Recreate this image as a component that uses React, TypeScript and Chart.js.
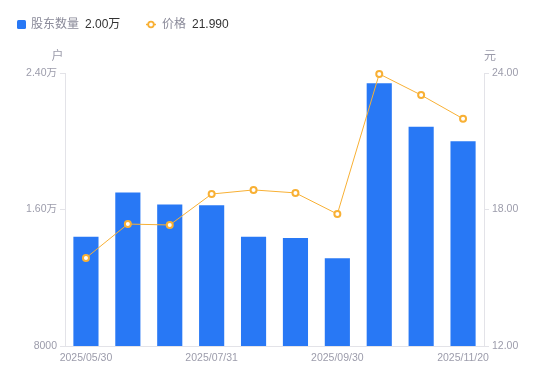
import React, { useEffect, useRef } from "react";
import { Chart, registerables } from "chart.js";

Chart.register(...registerables);

const categories = [
  "2025/05/30", "2025/06/20", "2025/06/30", "2025/07/31", "2025/08/20",
  "2025/08/31", "2025/09/30", "2025/10/20", "2025/10/31", "2025/11/20",
];
const holders = [14400, 17000, 16300, 16250, 14400, 14330, 13150, 23400, 20850, 20000];
const prices = [15.87, 17.36, 17.32, 18.68, 18.86, 18.73, 17.8, 23.96, 23.03, 21.99];
const leftTicks = [8000, 16000, 24000];
const rightTicks = [12, 18, 24];
const shownLabelIdx = [0, 3, 6, 9];
const seriesNames = ["股东数量", "价格"];
const legendValues = ["2.00万", "21.990"];
const unitLeft = "户";
const unitRight = "元";

const FONT = "'Liberation Sans', 'Noto Sans CJK SC', sans-serif";
const BLUE = "#2878f5";
const ORANGE = "#f8b034";
const TICK_COLOR = "#9c9cab";
const AXIS_COLOR = "#e3e3e8";
const TICK_SIZE = 10.5;

function fmtLeft(v: number) {
  if (v >= 10000) return (v / 10000).toFixed(2) + "万";
  return String(v);
}

const overlayPlugin = {
  id: "overlay",
  afterDraw(chart: any) {
    const ctx = chart.ctx;
    const area = chart.chartArea;
    ctx.save();
    // unit titles
    ctx.font = `12px ${FONT}`;
    ctx.fillStyle = TICK_COLOR;
    ctx.textAlign = "center";
    ctx.textBaseline = "middle";
    ctx.fillText(unitLeft, area.left - 7.5, 57);
    ctx.fillText(unitRight, area.right + 6, 57);

    // legend
    const y = 24.5;
    ctx.font = `12px ${FONT}`;
    ctx.textAlign = "left";
    let x = 17;
    // item 1
    ctx.fillStyle = BLUE;
    ctx.beginPath();
    (ctx as any).roundRect ? ctx.roundRect(x, y - 4.5, 9, 9, 1.5) : ctx.rect(x, y - 4.5, 9, 9);
    ctx.fill();
    x = 31;
    ctx.fillStyle = "#8a8a99";
    ctx.fillText(seriesNames[0], x, y);
    x += ctx.measureText(seriesNames[0]).width + 6;
    ctx.fillStyle = "#333333";
    ctx.fillText(legendValues[0], x, y);
    // item 2
    x = 146;
    ctx.strokeStyle = ORANGE;
    ctx.lineWidth = 1.5;
    ctx.beginPath();
    ctx.moveTo(x, y);
    ctx.lineTo(x + 10, y);
    ctx.stroke();
    ctx.beginPath();
    ctx.arc(x + 5, y, 2.8, 0, Math.PI * 2);
    ctx.fillStyle = "#fff";
    ctx.fill();
    ctx.lineWidth = 1.8;
    ctx.stroke();
    x = 162;
    ctx.fillStyle = "#8a8a99";
    ctx.fillText(seriesNames[1], x, y);
    x += ctx.measureText(seriesNames[1]).width + 6;
    ctx.fillStyle = "#333333";
    ctx.fillText(legendValues[1], x, y);
    ctx.restore();
  },
};

export default function App() {
  const ref = useRef<HTMLCanvasElement | null>(null);
  useEffect(() => {
    document.body.style.margin = "0";
    const canvas = ref.current!;
    const chart = new Chart(canvas, {
      data: {
        labels: categories,
        datasets: [
          {
            type: "line",
            label: seriesNames[1],
            data: prices,
            yAxisID: "y1",
            borderColor: ORANGE,
            borderWidth: 1,
            tension: 0,
            pointRadius: 3,
            pointBorderWidth: 2,
            pointBackgroundColor: "#fff",
            pointBorderColor: ORANGE,
            clip: false,
            order: 0,
          } as any,
          {
            type: "bar",
            label: seriesNames[0],
            data: holders,
            yAxisID: "y",
            backgroundColor: BLUE,
            barPercentage: 0.6,
            categoryPercentage: 1,
            order: 1,
          } as any,
        ],
      },
      options: {
        animation: false,
        responsive: false,
        maintainAspectRatio: false,
        layout: { padding: { top: 73, left: 0, right: 0, bottom: 0 } },
        plugins: { legend: { display: false }, tooltip: { enabled: false } },
        scales: {
          x: {
            grid: { display: false, drawTicks: false },
            border: { display: true, color: AXIS_COLOR },
            ticks: {
              autoSkip: false,
              maxRotation: 0,
              padding: 6,
              color: TICK_COLOR,
              font: { family: FONT, size: TICK_SIZE },
              callback: (_v: any, i: number) => (shownLabelIdx.includes(i) ? categories[i] : ""),
            },
            afterFit: (s: any) => {
              s.height = 35;
            },
          },
          y: {
            position: "left",
            min: leftTicks[0],
            max: leftTicks[leftTicks.length - 1],
            afterBuildTicks: (s: any) => {
              s.ticks = leftTicks.map((v) => ({ value: v }));
            },
            grid: { drawOnChartArea: false, drawTicks: true, tickLength: 5, color: AXIS_COLOR },
            border: { display: true, color: AXIS_COLOR },
            ticks: {
              padding: 3,
              color: TICK_COLOR,
              font: { family: FONT, size: TICK_SIZE },
              callback: (v: any) => fmtLeft(Number(v)),
            },
            afterFit: (s: any) => {
              s.width = 65;
            },
          },
          y1: {
            position: "right",
            min: rightTicks[0],
            max: rightTicks[rightTicks.length - 1],
            afterBuildTicks: (s: any) => {
              s.ticks = rightTicks.map((v) => ({ value: v }));
            },
            grid: { drawOnChartArea: false, drawTicks: true, tickLength: 5, color: AXIS_COLOR },
            border: { display: true, color: AXIS_COLOR },
            ticks: {
              padding: 3,
              color: TICK_COLOR,
              font: { family: FONT, size: TICK_SIZE },
              callback: (v: any) => Number(v).toFixed(2),
            },
            afterFit: (s: any) => {
              s.width = 66;
            },
          },
        },
      } as any,
      plugins: [overlayPlugin],
    });
    return () => chart.destroy();
  }, []);
  return (
    <div style={{ width: 550, height: 381, background: "#fff" }}>
      <canvas ref={ref} width={550} height={381} style={{ display: "block" }} />
    </div>
  );
}
